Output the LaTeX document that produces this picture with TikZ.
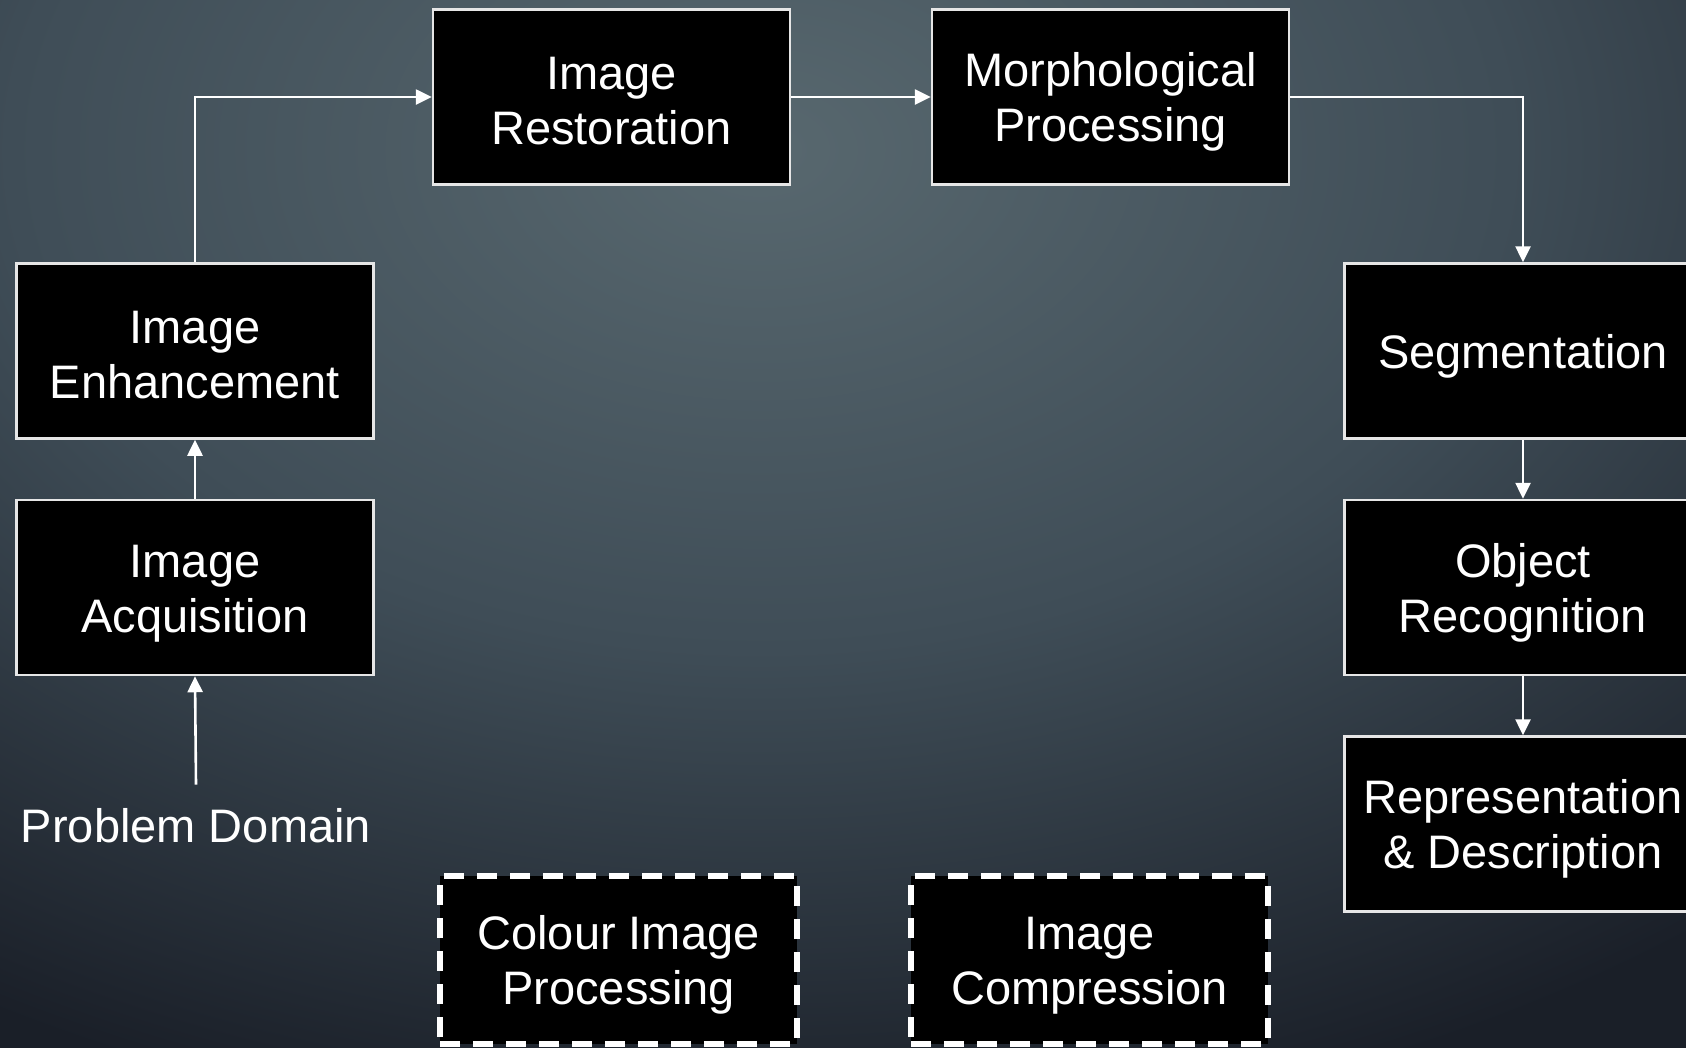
\documentclass[tikz,border=0pt]{standalone}
\usepackage{fontspec}
\setmainfont{Liberation Sans}
\usetikzlibrary{arrows.meta}
\definecolor{bgA}{HTML}{58686F}
\definecolor{bgB}{HTML}{3F4D57}
\definecolor{bgC}{HTML}{1A1F28}
\definecolor{boxline}{HTML}{E6E6E6}
\newcommand\sst{\rule[-4pt]{0pt}{48pt}}
\pgfdeclareradialshading{bgshade}{\pgfpoint{0bp}{0bp}}{color(0bp)=(bgA); color(12.5bp)=(bgB); color(25bp)=(bgC); color(50bp)=(bgC)}
\tikzset{
  box/.style={draw=boxline, fill=black, line width=2.5pt, minimum width=357pt, minimum height=175pt,
    text=white, align=center, inner sep=0pt, font=\fontsize{47pt}{55pt}\selectfont},
  dbox/.style={box, draw=white, line width=5.5pt, dash pattern=on 20pt off 13pt, minimum height=168pt},
  arr/.style={draw=white, line width=2.6pt, -{Triangle[length=16pt,width=15pt]}},
  plain/.style={text=white, inner sep=0pt, font=\fontsize{47pt}{55pt}\selectfont}
}
\begin{document}
\begin{tikzpicture}[x=1pt,y=-1pt]
\useasboundingbox (0,0) rectangle (1686,1047);
\begin{scope}
  \clip (0,0) rectangle (1686,1047);
  \fill[bgC] (0,0) rectangle (1686,1047);
  \shade[shading=bgshade] (-740,-850) rectangle (2260,1150);
\end{scope}

\node[box] (rest) at (611.5,97) {\sst Image\\\sst Restoration};
\node[box] (mor)  at (1110.5,97) {\sst Morphological\\\sst Processing};
\node[box] (enh)  at (195,351) {\sst Image\\\sst Enhancement};
\node[box] (acq)  at (195,587.5) {\sst Image\\\sst Acquisition};
\node[box] (seg)  at (1523,351) {\sst Segmentation};
\node[box] (obj)  at (1523,587.5) {\sst Object\\\sst Recognition};
\node[box] (rep)  at (1523,824) {\sst Representation\\\sst\&~Description};
\node[dbox] (col) at (618.5,960) {\sst Colour Image\\\sst Processing};
\node[dbox] (comp) at (1089.5,960) {\sst Image\\\sst Compression};
\node[plain] (pd) at (196,826) {Problem Domain};

\draw[arr] ([yshift=24pt]pd.north) -- (acq.south);
\draw[arr] (acq.north) -- (enh.south);
\draw[arr] (enh.north) |- (rest.west);
\draw[arr] (rest.east) -- (mor.west);
\draw[arr] (mor.east) -| (seg.north);
\draw[arr] (seg.south) -- (obj.north);
\draw[arr] (obj.south) -- (rep.north);
\end{tikzpicture}
\end{document}
